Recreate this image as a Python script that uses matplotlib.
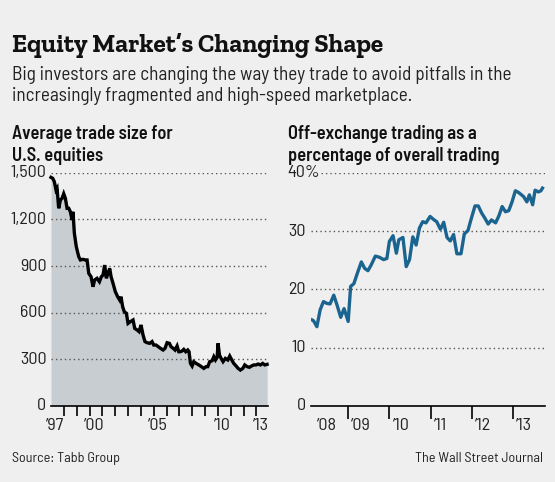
import matplotlib
matplotlib.use("Agg")
import matplotlib.pyplot as plt
from matplotlib import font_manager
from matplotlib.font_manager import FontProperties
import matplotlib.transforms as mtransforms

# ---- data ----
TRADE_YEARS = [
    1997.00, 1997.13, 1997.26, 1997.39, 1997.47, 1997.60, 1997.73, 1997.86, 1997.99,
    1998.12, 1998.25, 1998.38, 1998.51, 1998.64, 1998.71, 1998.82, 1998.97,
    1999.16, 1999.29, 1999.49, 1999.68, 1999.81, 1999.94,
    2000.12, 2000.27, 2000.40, 2000.58, 2000.77, 2000.92,
    2001.05, 2001.18, 2001.31, 2001.44, 2001.57, 2001.68, 2001.83,
    2002.01, 2002.19, 2002.35, 2002.45, 2002.58, 2002.71, 2002.87,
    2003.00, 2003.18, 2003.39, 2003.52, 2003.70, 2003.86,
    2004.01, 2004.17, 2004.32, 2004.48, 2004.69, 2004.87,
    2005.00, 2005.18, 2005.36, 2005.52, 2005.73, 2005.88,
    2006.04, 2006.22, 2006.35, 2006.51, 2006.66, 2006.82, 2006.95,
    2007.08, 2007.21, 2007.34, 2007.49, 2007.65, 2007.75, 2007.86, 2007.99,
    2008.12, 2008.30, 2008.51, 2008.71, 2008.90,
    2009.08, 2009.21, 2009.36, 2009.55, 2009.68, 2009.81, 2009.94,
    2010.01, 2010.12, 2010.25, 2010.40, 2010.58, 2010.77, 2010.92,
    2011.08, 2011.23, 2011.42, 2011.57, 2011.75, 2011.94,
    2012.09, 2012.27, 2012.45, 2012.61, 2012.79, 2012.97,
    2013.13, 2013.31, 2013.49, 2013.65, 2013.83,
]
TRADE_SIZE = [
    1470, 1464, 1442, 1389, 1400, 1271, 1324, 1335, 1365,
    1335, 1271, 1271, 1249, 1196, 1249, 1110, 1024,
    960, 939, 943, 939, 939, 853,
    831, 767, 810, 821, 799, 831,
    842, 906, 821, 853, 885, 831, 789,
    735, 703, 681, 703, 638, 606, 596,
    531, 542, 553, 499, 489, 478,
    521, 456, 414, 407, 403, 414,
    392, 392, 381, 371, 360, 371,
    407, 403, 381, 371, 360, 386, 349,
    349, 354, 364, 349, 360, 349, 274, 257,
    285, 274, 264, 253, 242,
    253, 253, 285, 291, 317, 296, 313,
    403, 328, 306, 285, 306, 296, 321,
    296, 274, 257, 242, 231, 242,
    264, 253, 249, 257, 264, 264,
    270, 264, 274, 264, 268,
]

OFFEX_YEARS = [
    2008.09, 2008.16, 2008.24, 2008.32, 2008.40, 2008.48, 2008.56, 2008.65, 2008.73,
    2008.82, 2008.90, 2009.00, 2009.06, 2009.14, 2009.22, 2009.32, 2009.40, 2009.48,
    2009.56, 2009.66, 2009.76, 2009.86, 2009.94, 2010.00, 2010.09, 2010.17, 2010.23,
    2010.33, 2010.41, 2010.49, 2010.57, 2010.65, 2010.73, 2010.81, 2010.89, 2010.99,
    2011.07, 2011.15, 2011.24, 2011.32, 2011.40, 2011.48, 2011.56, 2011.64, 2011.74,
    2011.82, 2011.91, 2011.98, 2012.08, 2012.16, 2012.24, 2012.32, 2012.40, 2012.48,
    2012.58, 2012.66, 2012.74, 2012.82, 2012.90, 2012.98, 2013.06, 2013.14, 2013.26,
    2013.34, 2013.40, 2013.48, 2013.54, 2013.62, 2013.68, 2013.74,
]
OFFEX_PCT = [
    14.9, 14.6, 13.6, 16.5, 17.9, 17.6, 17.5, 19.0, 17.3,
    15.2, 16.7, 14.5, 20.5, 21.0, 22.7, 24.7, 23.6, 23.2,
    24.2, 25.7, 25.5, 25.1, 25.3, 28.2, 29.2, 26.2, 28.5,
    28.9, 23.9, 25.1, 29.0, 27.6, 30.5, 31.6, 31.4, 32.5,
    32.0, 31.6, 30.3, 31.5, 28.9, 28.3, 29.4, 26.1, 26.1,
    29.5, 30.1, 31.9, 34.3, 34.3, 33.1, 32.2, 31.2, 31.9,
    31.4, 32.6, 34.2, 33.3, 33.5, 35.0, 36.9, 36.6, 35.9,
    35.0, 36.2, 34.5, 37.0, 36.7, 36.9, 37.6,
]

TRADE_TICKS = [0, 300, 600, 900, 1200, 1500]
TRADE_TICKLABELS = ["0", "300", "600", "900", "1,200", "1,500"]
TRADE_LABEL_YEARS = [1997, 2000, 2005, 2010, 2013]

OFFEX_TICKS = [0, 10, 20, 30, 40]
OFFEX_LABEL_YEARS = [2008, 2009, 2010, 2011, 2012, 2013]

TITLE = "Equity Market\u2019s Changing Shape"
SUBTITLE = ["Big investors are changing the way they trade to avoid pitfalls in the",
            "increasingly fragmented and high-speed marketplace."]
LEFT_HEAD = ["Average trade size for", "U.S. equities"]
RIGHT_HEAD = ["Off-exchange trading as a", "percentage of overall trading"]
SOURCE = "Source: Tabb Group"
CREDIT = "The Wall Street Journal"

BG = "#efefef"
FILL = "#c8cdd2"
BLUE = "#1b6490"
TXT = "#222222"


def pick_font(candidates, min_weight, fallback):
    """first static, upright font file of the given families with enough weight"""
    entries = font_manager.fontManager.ttflist
    for cand in candidates:
        hits = [f for f in entries if f.name == cand and f.style == "normal"
                and "[" not in f.fname and min_weight <= f.weight <= min_weight + 150]
        if hits:
            hits.sort(key=lambda f: f.weight)
            return dict(fontproperties=FontProperties(fname=hits[0].fname))
    return fallback


SERIF = pick_font(["Rokkitt", "Roboto Slab", "Zilla Slab", "Bitter", "Arvo"], 700,
                  dict(family="DejaVu Serif", fontstretch="condensed", fontweight="bold"))
SANS = pick_font(["Barlow Semi Condensed"], 400,
                 dict(family="DejaVu Sans", fontstretch="condensed"))
SANS_B = pick_font(["Barlow Semi Condensed"], 600,
                   dict(family="DejaVu Sans", fontstretch="condensed", fontweight="bold"))

W, H = 555, 482
fig = plt.figure(figsize=(W / 100, H / 100), dpi=100, facecolor=BG)
renderer = fig.canvas.get_renderer()


def yfig(y):
    return 1 - y / H


def text_width(s, style, size):
    t = fig.text(0, 0, s, **style)
    t.set_fontsize(size)
    w = t.get_window_extent(renderer).width
    t.remove()
    return w


def fit_size(s, width, style):
    return 10 * width / text_width(s, style, 10)


def put(ax_or_fig, x, y, s, style, size, **kw):
    t = ax_or_fig.text(x, y, s, **style, **kw)
    t.set_fontsize(size)
    return t


def px_axes(x0, x1, y_top, y_bot):
    return fig.add_axes([x0 / W, 1 - y_bot / H, (x1 - x0) / W, (y_bot - y_top) / H])


# font sizes matched to widths measured on the reference
fs_title = fit_size(TITLE, 371, SERIF)
fs_sub = fit_size(SUBTITLE[0], 501, SANS)
fs_head = fit_size(RIGHT_HEAD[1], 212, SANS_B)
fs_foot = fit_size(CREDIT, 128, SANS)
fs_tick = fit_size("1,500", 36, SANS)

put(fig, 12 / W, yfig(52), TITLE, SERIF, fs_title, color="#111111", va="baseline")
for i, line in enumerate(SUBTITLE):
    put(fig, 12 / W, yfig(80 + 21 * i), line, SANS, fs_sub, color=TXT, va="baseline")
for i, (a, b) in enumerate(zip(LEFT_HEAD, RIGHT_HEAD)):
    put(fig, 12 / W, yfig(139 + 22 * i), a, SANS_B, fs_head, color="#111111", va="baseline")
    put(fig, 288 / W, yfig(139 + 22 * i), b, SANS_B, fs_head, color="#111111", va="baseline")
put(fig, 12 / W, yfig(462), SOURCE, SANS, fs_foot, color=TXT, va="baseline")
put(fig, 543 / W, yfig(462), CREDIT, SANS, fs_foot, color=TXT, va="baseline", ha="right")

dots = dict(color="#555555", linewidth=1.0, linestyle=(0, (1, 2.2)))

# ---- left panel ----
ax1 = px_axes(51, 268, 172.7, 406)
ax1.set_facecolor("none")
ax1.set_xlim(1997.0, 2013.9)
ax1.set_ylim(0, 1500)
ax1.fill_between(TRADE_YEARS, TRADE_SIZE, 0, color=FILL, linewidth=0, zorder=1)
ax1.plot(TRADE_YEARS, TRADE_SIZE, color="black", linewidth=2.4, zorder=3,
         solid_joinstyle="miter", clip_on=False)
for v in TRADE_TICKS[1:]:
    ax1.axhline(v, zorder=2, **dots)
for s in ["top", "right", "left"]:
    ax1.spines[s].set_visible(False)
ax1.spines["bottom"].set_color("black")
ax1.spines["bottom"].set_linewidth(1.2)
ax1.spines["bottom"].set_zorder(4)
ax1.set_yticks([])
ax1.set_xticks(range(1998, 2014))
ax1.set_xticklabels([])
ax1.tick_params(axis="x", direction="out", length=7, width=1.2, color="black")
ylab1 = mtransforms.blended_transform_factory(fig.transFigure, ax1.transData)
for v, lab in zip(TRADE_TICKS, TRADE_TICKLABELS):
    put(ax1, 46.5 / W, v, lab, SANS, fs_tick, transform=ylab1, ha="right", va="center",
        color=TXT)
xlab1 = mtransforms.blended_transform_factory(ax1.transData, fig.transFigure)
for yr in TRADE_LABEL_YEARS:
    put(ax1, yr + 0.35, yfig(430), "\u2019%02d" % (yr % 100), SANS, fs_tick,
        transform=xlab1, ha="center", va="baseline", color=TXT)

# ---- right panel ----
ax2 = px_axes(310.7, 545, 172.7, 406)
ax2.set_facecolor("none")
ax2.set_xlim(2008.09, 2013.78)
ax2.set_ylim(0, 40)
ax2.plot(OFFEX_YEARS, OFFEX_PCT, color=BLUE, linewidth=2.4, zorder=3,
         solid_joinstyle="round", solid_capstyle="butt")
for v in OFFEX_TICKS[1:]:
    # the top line starts after the "40%" label
    ax2.axhline(v, xmin=0.045 if v == OFFEX_TICKS[-1] else 0, zorder=2, **dots)
for s in ["top", "right", "left"]:
    ax2.spines[s].set_visible(False)
ax2.spines["bottom"].set_color("black")
ax2.spines["bottom"].set_linewidth(1.2)
ax2.set_yticks([])
ax2.set_xticks(range(2009, 2014))
ax2.set_xticklabels([])
ax2.tick_params(axis="x", direction="out", length=9, width=1.2, color="black")
ylab2 = mtransforms.blended_transform_factory(fig.transFigure, ax2.transData)
for v in OFFEX_TICKS[:-1]:
    put(ax2, 305.5 / W, v, str(v), SANS, fs_tick, transform=ylab2, ha="right",
        va="center", color=TXT)
# top label carries the unit; its digits line up with the ones below
top = str(OFFEX_TICKS[-1])
x_top = 305.5 - text_width(top, SANS, fs_tick)
put(ax2, x_top / W, OFFEX_TICKS[-1], top + "%", SANS, fs_tick, transform=ylab2,
    ha="left", va="center", color=TXT)
xlab2 = mtransforms.blended_transform_factory(ax2.transData, fig.transFigure)
for yr in OFFEX_LABEL_YEARS:
    x = yr + 0.08 if yr > 2008 else 2008.24
    put(ax2, x, yfig(430), "\u2019%02d" % (yr % 100), SANS, fs_tick, transform=xlab2,
        ha="left", va="baseline", color=TXT)

fig.savefig("out.png", dpi=100, facecolor=BG)
